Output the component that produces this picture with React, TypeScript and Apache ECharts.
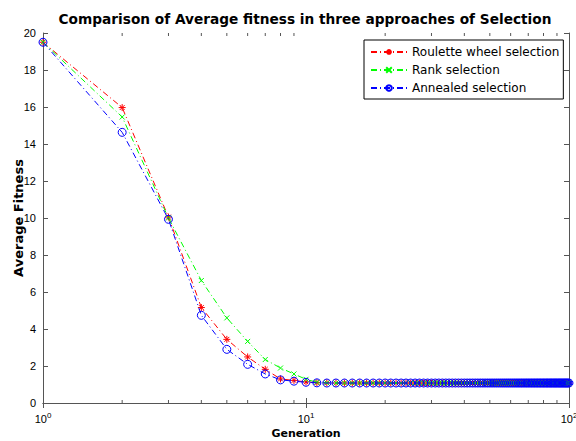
import React, { useEffect, useRef } from "react";
import * as echarts from "echarts";

const generations = [
  1, 2, 3, 4, 5, 6, 7, 8, 9, 10,
  11, 12, 13, 14, 15, 16, 17, 18, 19, 20,
  21, 22, 23, 24, 25, 26, 27, 28, 29, 30,
  31, 32, 33, 34, 35, 36, 37, 38, 39, 40,
  41, 42, 43, 44, 45, 46, 47, 48, 49, 50,
  51, 52, 53, 54, 55, 56, 57, 58, 59, 60,
  61, 62, 63, 64, 65, 66, 67, 68, 69, 70,
  71, 72, 73, 74, 75, 76, 77, 78, 79, 80,
  81, 82, 83, 84, 85, 86, 87, 88, 89, 90,
  91, 92, 93, 94, 95, 96, 97, 98, 99, 100,
];

const roulette = [
  19.5, 15.97, 10.05, 5.16, 3.44, 2.49, 1.82, 1.3, 1.22, 1.14,
  1.1, 1.09, 1.08, 1.08, 1.08, 1.08, 1.08, 1.08, 1.08, 1.08,
  1.08, 1.08, 1.08, 1.08, 1.08, 1.08, 1.08, 1.08, 1.08, 1.08,
  1.08, 1.08, 1.08, 1.08, 1.08, 1.08, 1.08, 1.08, 1.08, 1.08,
  1.08, 1.08, 1.08, 1.08, 1.08, 1.08, 1.08, 1.08, 1.08, 1.08,
  1.08, 1.08, 1.08, 1.08, 1.08, 1.08, 1.08, 1.08, 1.08, 1.08,
  1.08, 1.08, 1.08, 1.08, 1.08, 1.08, 1.08, 1.08, 1.08, 1.08,
  1.08, 1.08, 1.08, 1.08, 1.08, 1.08, 1.08, 1.08, 1.08, 1.08,
  1.08, 1.08, 1.08, 1.08, 1.08, 1.08, 1.08, 1.08, 1.08, 1.08,
  1.08, 1.08, 1.08, 1.08, 1.08, 1.08, 1.08, 1.08, 1.08, 1.08,
];

const rank = [
  19.5, 15.46, 10.0, 6.62, 4.6, 3.33, 2.35, 1.89, 1.57, 1.28,
  1.12, 1.09, 1.08, 1.08, 1.08, 1.08, 1.08, 1.08, 1.08, 1.08,
  1.08, 1.08, 1.08, 1.08, 1.08, 1.08, 1.08, 1.08, 1.08, 1.08,
  1.08, 1.08, 1.08, 1.08, 1.08, 1.08, 1.08, 1.08, 1.08, 1.08,
  1.08, 1.08, 1.08, 1.08, 1.08, 1.08, 1.08, 1.08, 1.08, 1.08,
  1.08, 1.08, 1.08, 1.08, 1.08, 1.08, 1.08, 1.08, 1.08, 1.08,
  1.08, 1.08, 1.08, 1.08, 1.08, 1.08, 1.08, 1.08, 1.08, 1.08,
  1.08, 1.08, 1.08, 1.08, 1.08, 1.08, 1.08, 1.08, 1.08, 1.08,
  1.08, 1.08, 1.08, 1.08, 1.08, 1.08, 1.08, 1.08, 1.08, 1.08,
  1.08, 1.08, 1.08, 1.08, 1.08, 1.08, 1.08, 1.08, 1.08, 1.08,
];

const annealed = [
  19.5, 14.63, 9.93, 4.74, 2.9, 2.09, 1.57, 1.25, 1.18, 1.12,
  1.09, 1.08, 1.08, 1.08, 1.08, 1.08, 1.08, 1.08, 1.08, 1.08,
  1.08, 1.08, 1.08, 1.08, 1.08, 1.08, 1.08, 1.08, 1.08, 1.08,
  1.08, 1.08, 1.08, 1.08, 1.08, 1.08, 1.08, 1.08, 1.08, 1.08,
  1.08, 1.08, 1.08, 1.08, 1.08, 1.08, 1.08, 1.08, 1.08, 1.08,
  1.08, 1.08, 1.08, 1.08, 1.08, 1.08, 1.08, 1.08, 1.08, 1.08,
  1.08, 1.08, 1.08, 1.08, 1.08, 1.08, 1.08, 1.08, 1.08, 1.08,
  1.08, 1.08, 1.08, 1.08, 1.08, 1.08, 1.08, 1.08, 1.08, 1.08,
  1.08, 1.08, 1.08, 1.08, 1.08, 1.08, 1.08, 1.08, 1.08, 1.08,
  1.08, 1.08, 1.08, 1.08, 1.08, 1.08, 1.08, 1.08, 1.08, 1.08,
];

const minorTicks = [2, 3, 4, 5, 6, 7, 8, 9, 20, 30, 40, 50, 60, 70, 80, 90];

const seriesNames = ["Roulette wheel selection", "Rank selection", "Annealed selection"];

const WIDE = "'DejaVu Sans', Verdana, sans-serif";
const ARIAL = "Arial, 'Liberation Sans', sans-serif";
const AXIS = "#555";
const DASHDOT = [6, 3, 1, 3];

const asterisk = "path://M0,-1L0,1M-1,0L1,0M-0.7,-0.7L0.7,0.7M-0.7,0.7L0.7,-0.7";
const cross = "path://M-1,-1L1,1M-1,1L1,-1";

export default function App() {
  const ref = useRef<HTMLDivElement>(null);
  useEffect(() => {
    if (!ref.current) return;
    const chart = echarts.init(ref.current, null, { renderer: "svg" });
    const pair = (ys: number[]) => generations.map((g, i) => [g, ys[i]]);
    const axisLine = { show: true, lineStyle: { color: AXIS, width: 1 } };
    const tick = { show: true, inside: true, length: 5, lineStyle: { color: AXIS } };
    chart.setOption({
      animation: false,
      backgroundColor: "#fff",
      title: {
        text: "Comparison of Average fitness in three approaches of Selection",
        left: 300,
        textAlign: "center",
        top: 7,
        textStyle: { fontFamily: WIDE, fontSize: 13.7, fontWeight: "bold", color: "#000" },
      },
      grid: { left: 43, right: 7, top: 33, bottom: 38, outerBoundsMode: "none", containLabel: false },
      legend: {
        data: seriesNames,
        orient: "vertical",
        left: 364,
        top: 40,
        padding: [6, 4, 5, 6],
        itemGap: 6,
        itemWidth: 36,
        itemHeight: 7,
        borderColor: "#000",
        borderWidth: 1,
        borderRadius: 0,
        backgroundColor: "#fff",
        textStyle: { fontFamily: WIDE, fontSize: 12, lineHeight: 12, color: "#000" },
      },
      xAxis: [
        {
          type: "log",
          logBase: 10,
          min: 1,
          max: 100,
          name: "Generation",
          nameLocation: "middle",
          nameGap: 25,
          nameMoveOverlap: false,
          nameTextStyle: { fontFamily: WIDE, fontSize: 11, fontWeight: "bold", color: "#000" },
          axisLine,
          axisTick: tick,
          splitLine: { show: false },
          axisLabel: {
            margin: 8,
            formatter: (v: number) => `{b|10}{s|${Math.round(Math.log10(v))}}`,
            rich: {
              b: { fontFamily: ARIAL, fontSize: 11, lineHeight: 12, color: "#000", padding: [3, 0, 0, 0] },
              s: { fontFamily: ARIAL, fontSize: 8, lineHeight: 9, color: "#000", padding: [0, 0, 2, 0], verticalAlign: "top" },
            },
          },
        },
        {
          type: "log",
          logBase: 10,
          min: 1,
          max: 100,
          position: "top",
          axisLine,
          axisTick: tick,
          axisLabel: { show: false },
          splitLine: { show: false },
        },
      ],
      yAxis: [
        {
          type: "value",
          min: 0,
          max: 20,
          interval: 2,
          name: "Average Fitness",
          nameLocation: "middle",
          nameGap: 18,
          nameMoveOverlap: false,
          nameTextStyle: { fontFamily: WIDE, fontSize: 13, fontWeight: "bold", color: "#000" },
          axisLine,
          axisTick: tick,
          splitLine: { show: false },
          axisLabel: { fontFamily: ARIAL, fontSize: 11, color: "#000", margin: 7 },
        },
        {
          type: "value",
          min: 0,
          max: 20,
          interval: 2,
          position: "right",
          axisLine,
          axisTick: tick,
          axisLabel: { show: false },
          splitLine: { show: false },
        },
      ],
      series: [
        {
          type: "custom",
          name: "minorTicks",
          silent: true,
          clip: false,
          z: 1,
          data: minorTicks.map((v) => [v]),
          renderItem: (params: any, api: any) => {
            const v = api.value(0);
            const b = api.coord([v, 0]);
            const t = api.coord([v, 20]);
            const style = { stroke: AXIS, lineWidth: 1 };
            return {
              type: "group",
              children: [
                { type: "line", shape: { x1: b[0], y1: b[1], x2: b[0], y2: b[1] - 3 }, style },
                { type: "line", shape: { x1: t[0], y1: t[1], x2: t[0], y2: t[1] + 3 }, style },
              ],
            };
          },
        },
        {
          type: "line",
          name: seriesNames[0],
          data: pair(roulette),
          symbol: asterisk,
          symbolSize: 7,
          z: 2,
          lineStyle: { color: "#ff0000", width: 1, type: DASHDOT },
          itemStyle: { color: "#ff0000", borderColor: "#ff0000", borderWidth: 1 },
        },
        {
          type: "line",
          name: seriesNames[1],
          data: pair(rank),
          symbol: cross,
          symbolSize: 5,
          z: 3,
          lineStyle: { color: "#00ff00", width: 1, type: DASHDOT },
          itemStyle: { color: "#00ff00", borderColor: "#00ff00", borderWidth: 1 },
        },
        {
          type: "line",
          name: seriesNames[2],
          data: pair(annealed),
          symbol: "circle",
          symbolSize: 8,
          z: 4,
          lineStyle: { color: "#0000ff", width: 1, type: DASHDOT },
          itemStyle: { color: "rgba(0,0,0,0)", borderColor: "#0000ff", borderWidth: 1 },
        },
      ],
    });
    return () => chart.dispose();
  }, []);
  return <div ref={ref} style={{ position: "fixed", left: 0, top: 0, width: 576, height: 441 }} />;
}
